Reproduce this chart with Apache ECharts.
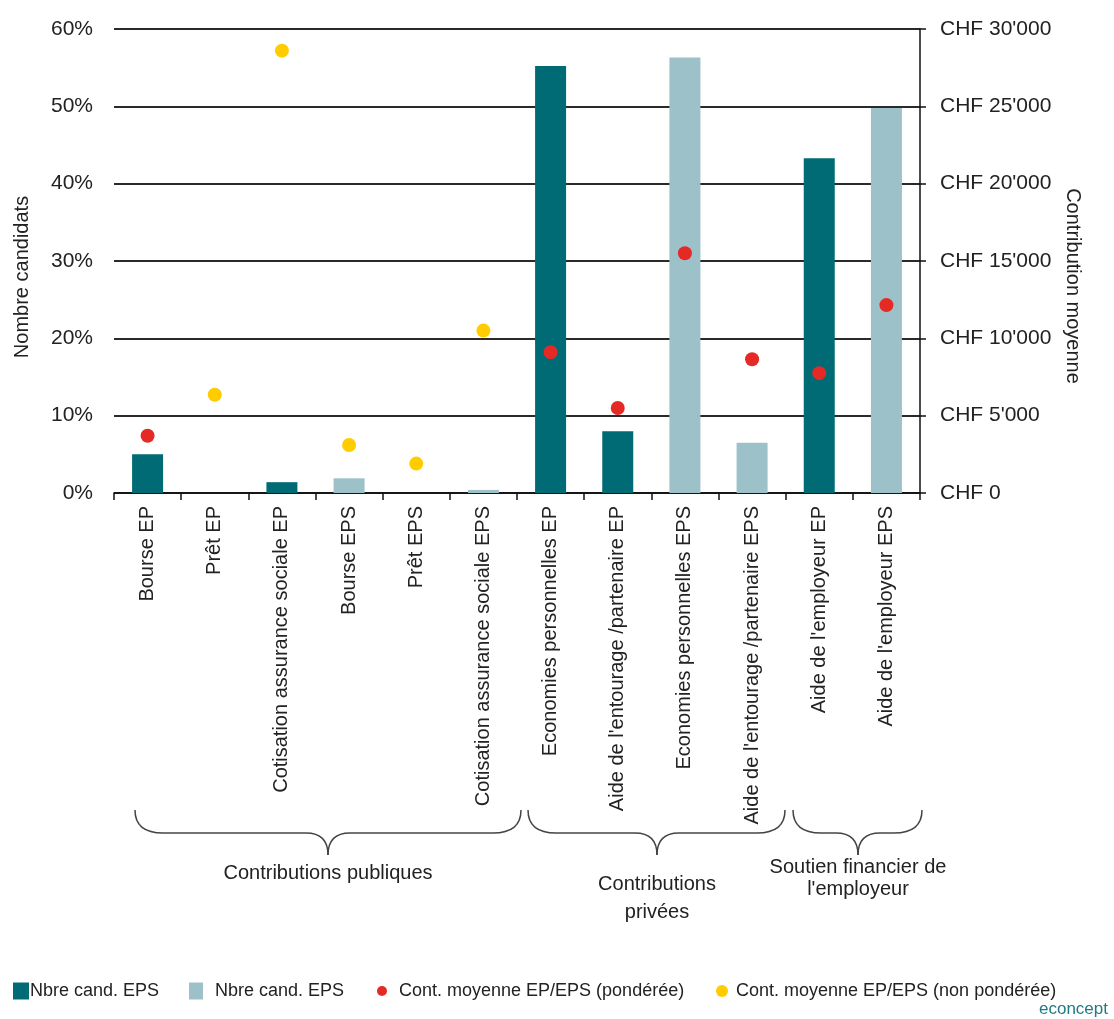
<!DOCTYPE html>
<html>
<head>
<meta charset="utf-8">
<script src="https://cdn.jsdelivr.net/npm/echarts@6/dist/echarts.min.js"></script>
<style>html,body{margin:0;padding:0;background:#fff;}#c{width:1114px;height:1019px;}</style>
</head>
<body>
<div id="c"></div>
<script>
var categories = ['Bourse EP', 'Prêt EP', 'Cotisation assurance sociale EP', 'Bourse EPS', 'Prêt EPS',
  'Cotisation assurance sociale EPS', 'Economies personnelles EP', "Aide de l'entourage /partenaire EP",
  'Economies personnelles EPS', "Aide de l'entourage /partenaire EPS", "Aide de l'employeur EP", "Aide de l'employeur EPS"];
var candEP  = [5.0, 0, 1.4, null, null, null, 55.2, 8.0, null, null, 43.3, null];
var candEPS = [null, null, null, 1.9, 0, 0.4, null, null, 56.3, 6.5, null, 49.8];
var contPonderee = [3700, null, null, null, null, null, 9100, 5500, 15500, 8650, 7750, 12150];
var contNonPonderee = [null, 6350, 28600, 3100, 1900, 10500, null, null, null, null, null, null];
var leftTicks = [0, 10, 20, 30, 40, 50, 60];
var rightTicks = [0, 5000, 10000, 15000, 20000, 25000, 30000];
var groupLabels = ['Contributions publiques', 'Contributions\nprivées', 'Soutien financier de\nl\'employeur'];

var FONT = "'Liberation Sans', Arial, sans-serif";
var TXT = '#222';
var C_DARK = '#006B75', C_LIGHT = '#9DC1C9', C_RED = '#E52A26', C_YEL = '#FFCC00';
var names = ['Nbre cand. EPS', 'Nbre cand. EPS ', 'Cont. moyenne EP/EPS (pondérée)', 'Cont. moyenne EP/EPS (non pondérée)'];

// decoration layout (braces under the category labels)
var braceLayout = [
  {x0: 135, x1: 521, xm: 328, ty: 873, lh: 24},
  {x0: 528, x1: 785, xm: 657, ty: 898, lh: 28},
  {x0: 793, x1: 922, xm: 858, ty: 878, lh: 22}
];

function chf(v) {
  var s = String(Math.round(v)).replace(/\B(?=(\d{3})+(?!\d))/g, "'");
  return 'CHF ' + s;
}
var BR = {stroke: '#444', lineWidth: 1.5, fill: null};
function brace(g) {
  var yT = 810, yM = 833, yP = 855, r = 28, m = 22;
  return [
    {type: 'bezierCurve', shape: {x1: g.x0, y1: yT, cpx1: g.x0, cpy1: yM, x2: g.x0 + r, y2: yM}, style: BR},
    {type: 'line', shape: {x1: g.x0 + r, y1: yM, x2: g.xm - m, y2: yM}, style: BR},
    {type: 'bezierCurve', shape: {x1: g.xm - m, y1: yM, cpx1: g.xm, cpy1: yM, x2: g.xm, y2: yP}, style: BR},
    {type: 'bezierCurve', shape: {x1: g.xm, y1: yP, cpx1: g.xm, cpy1: yM, x2: g.xm + m, y2: yM}, style: BR},
    {type: 'line', shape: {x1: g.xm + m, y1: yM, x2: g.x1 - r, y2: yM}, style: BR},
    {type: 'bezierCurve', shape: {x1: g.x1 - r, y1: yM, cpx1: g.x1, cpy1: yM, x2: g.x1, y2: yT}, style: BR}
  ];
}
var graphics = [];
braceLayout.forEach(function (g, i) {
  graphics = graphics.concat(brace(g));
  graphics.push({type: 'text', x: g.xm, y: g.ty, style: {text: groupLabels[i], font: '20px ' + FONT, fill: TXT,
    textAlign: 'center', textVerticalAlign: 'middle', lineHeight: g.lh}});
});
graphics.push({type: 'text', right: 6, top: 1001, style: {text: 'econcept', font: '17px ' + FONT, fill: '#1F7A83'}});

function legend(name, left, icon, w, h, padL) {
  return {data: [{name: name, icon: icon}], left: left, top: 982, padding: 0, itemWidth: w, itemHeight: h,
    formatter: function (n) { return n.trim(); },
    textStyle: {fontFamily: FONT, fontSize: 18, color: TXT, padding: [0, 0, 0, padL]}};
}

var chart = echarts.init(document.getElementById('c'));
chart.setOption({
  animation: false,
  backgroundColor: '#fff',
  grid: {left: 114, right: 194, top: 29, bottom: 526, containLabel: false},
  legend: [
    legend(names[0], 13, 'rect', 16, 17, -4),
    legend(names[1], 189, 'rect', 14, 17, 7),
    legend(names[2], 377, 'circle', 10, 10, 7),
    legend(names[3], 716, 'circle', 12, 12, 3)
  ],
  xAxis: {
    type: 'category', data: categories, boundaryGap: true,
    axisLine: {lineStyle: {color: '#111', width: 1.5}},
    axisTick: {show: true, length: 7, lineStyle: {color: '#111', width: 1.5}},
    axisLabel: {rotate: 90, margin: 13, fontFamily: FONT, fontSize: 20, color: TXT, interval: 0}
  },
  yAxis: [
    {type: 'value', min: 0, max: 60, interval: 10, position: 'left',
      name: 'Nombre candidats', nameLocation: 'middle', nameGap: 82, nameRotate: 90,
      nameTextStyle: {fontFamily: FONT, fontSize: 20, color: TXT, padding: [0, 32, 0, 0]},
      axisLine: {show: false}, axisTick: {show: false},
      axisLabel: {margin: 21, fontFamily: FONT, fontSize: 21, color: TXT, formatter: '{value}%'},
      splitLine: {show: true, lineStyle: {color: '#2a2a2a', width: 2}}},
    {type: 'value', min: 0, max: 30000, interval: 5000, position: 'right',
      name: 'Contribution moyenne', nameLocation: 'middle', nameGap: 135, nameRotate: -90,
      nameTextStyle: {fontFamily: FONT, fontSize: 20, color: TXT, padding: [0, 0, 0, 50]},
      axisLine: {show: true, lineStyle: {color: '#111', width: 1.5}},
      axisTick: {show: true, length: 6, lineStyle: {color: '#111', width: 1.5}},
      axisLabel: {margin: 20, fontFamily: FONT, fontSize: 21, color: TXT, formatter: chf},
      splitLine: {show: false}}
  ],
  series: [
    {name: names[0], type: 'bar', data: candEP, barWidth: 31, barGap: '-100%', itemStyle: {color: C_DARK}, z: 2},
    {name: names[1], type: 'bar', data: candEPS, barWidth: 31, barGap: '-100%', itemStyle: {color: C_LIGHT}, z: 2},
    {name: names[2], type: 'scatter', yAxisIndex: 1, data: contPonderee, symbolSize: 14, itemStyle: {color: C_RED, opacity: 1}, z: 5},
    {name: names[3], type: 'scatter', yAxisIndex: 1, data: contNonPonderee, symbolSize: 14, itemStyle: {color: C_YEL, opacity: 1}, z: 5}
  ],
  graphic: graphics
});
</script>
</body>
</html>
